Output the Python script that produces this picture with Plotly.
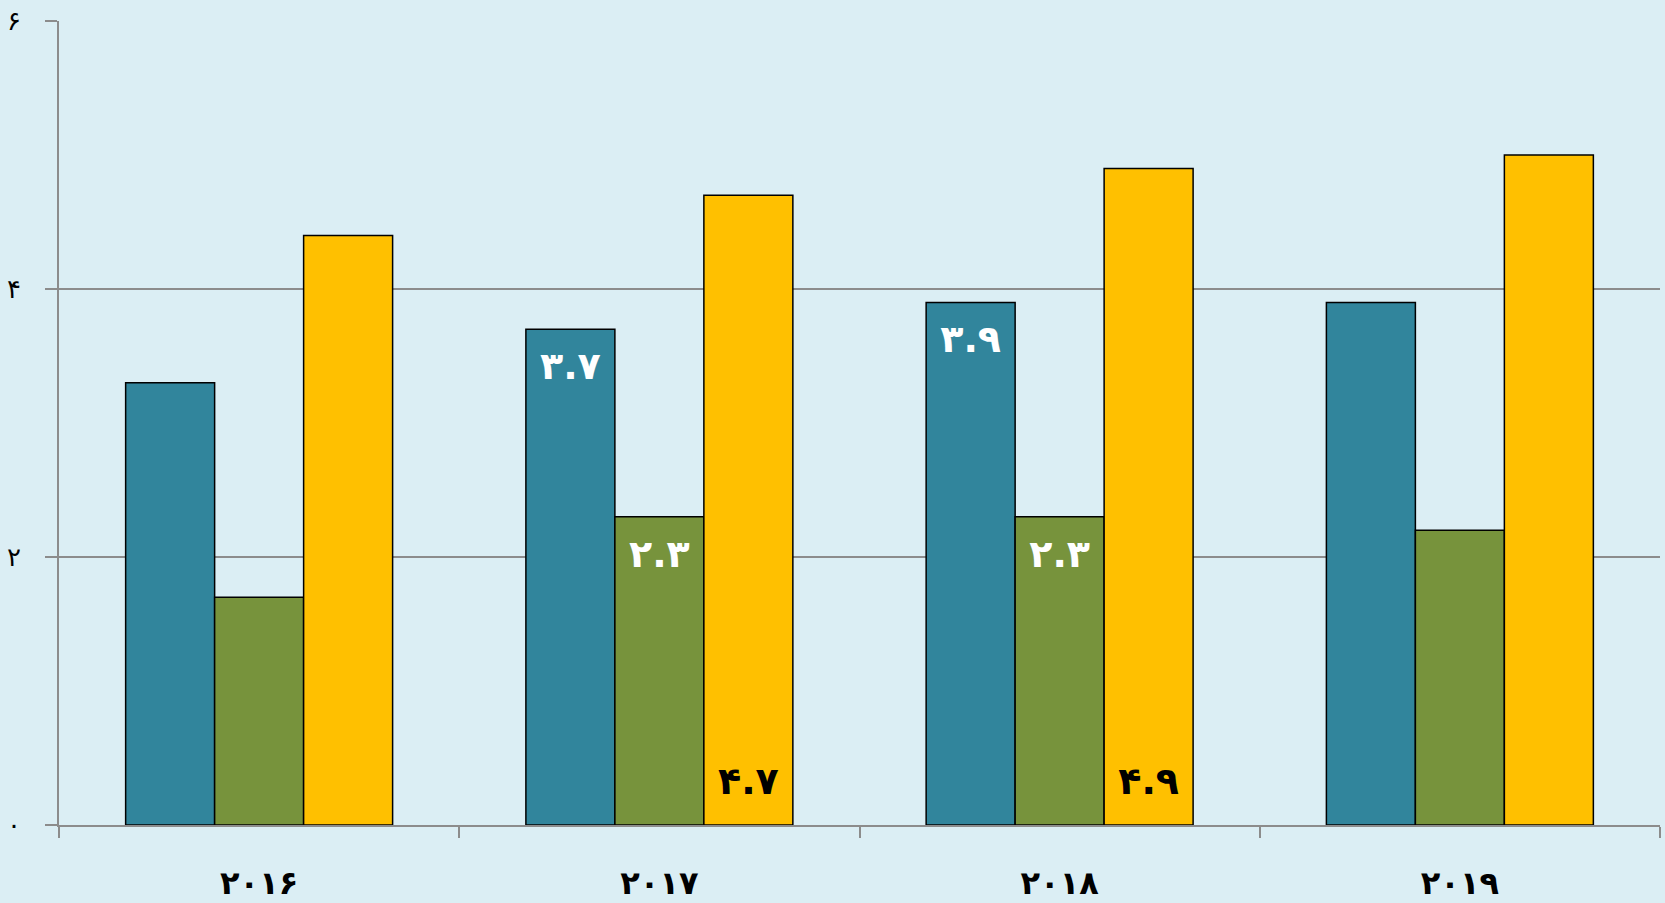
import plotly.graph_objects as go

years = ["۲۰۱۶", "۲۰۱۷", "۲۰۱۸", "۲۰۱۹"]
blue_vals = [3.3, 3.7, 3.9, 3.9]
green_vals = [1.7, 2.3, 2.3, 2.2]
yellow_vals = [4.4, 4.7, 4.9, 5.0]
blue_text = ["", "۳.۷", "۳.۹", ""]
green_text = ["", "۲.۳", "۲.۳", ""]
yellow_text = ["", "۴.۷", "۴.۹", ""]
y_ticks = [0, 2, 4, 6]
y_tick_text = ["۰", "۲", "۴", "۶"]

FONT = "DejaVu Sans"
outline = dict(color="#000000", width=1.5)
TOP_OFFSET = 0.30   # label sits this far (in data units) below bar top
BASE_LEVEL = 0.30   # label for yellow bars sits near the base

fig = go.Figure()
series = [
    ("b", blue_vals, "#31859C"),
    ("g", green_vals, "#77933C"),
    ("y", yellow_vals, "#FFC000"),
]
for grp, vals, col in series:
    fig.add_trace(go.Bar(x=years, y=vals, offsetgroup=grp,
                         marker=dict(color=col, line=outline), hoverinfo="y"))

label_sets = [
    ("b", [v - TOP_OFFSET for v in blue_vals], blue_text, "white"),
    ("g", [v - TOP_OFFSET for v in green_vals], green_text, "white"),
    ("y", [BASE_LEVEL for v in yellow_vals], yellow_text, "black"),
]
for grp, ys, txt, col in label_sets:
    fig.add_trace(go.Scatter(x=years, y=ys, text=txt, mode="text", offsetgroup=grp,
                             textposition="middle center", hoverinfo="skip",
                             textfont=dict(family=FONT, size=38, color=col, weight="bold")))

fig.update_layout(
    width=1665, height=903,
    margin=dict(l=59, r=5, t=21, b=78),
    paper_bgcolor="#DBEEF4", plot_bgcolor="#DBEEF4",
    barmode="group", bargap=0.333, bargroupgap=0,
    scattermode="group", scattergap=0.333,
    showlegend=False,
    font=dict(family=FONT, color="black"),
)
fig.update_xaxes(
    type="category", showline=True, linecolor="#8C8C8C", linewidth=1.5,
    ticks="outside", tickson="boundaries", ticklen=11, tickcolor="#8C8C8C", tickwidth=1.5,
    tickfont=dict(family=FONT, size=32, color="black", weight="bold"),
    ticklabelstandoff=29, showgrid=False, automargin=False,
)
fig.update_yaxes(
    range=[0, 6], tickvals=y_ticks, ticktext=y_tick_text,
    showline=True, linecolor="#8C8C8C", linewidth=1.5,
    ticks="outside", ticklen=12, tickcolor="#8C8C8C", tickwidth=1.5,
    showgrid=True, gridcolor="#8C8C8C", gridwidth=1.5, zeroline=False,
    tickfont=dict(family=FONT, size=26, color="black"),
    ticklabelstandoff=19, automargin=False,
)

fig.write_html("out.html", config={"displayModeBar": False},
               post_script="document.body.style.margin='0';document.body.style.overflow='hidden';")
